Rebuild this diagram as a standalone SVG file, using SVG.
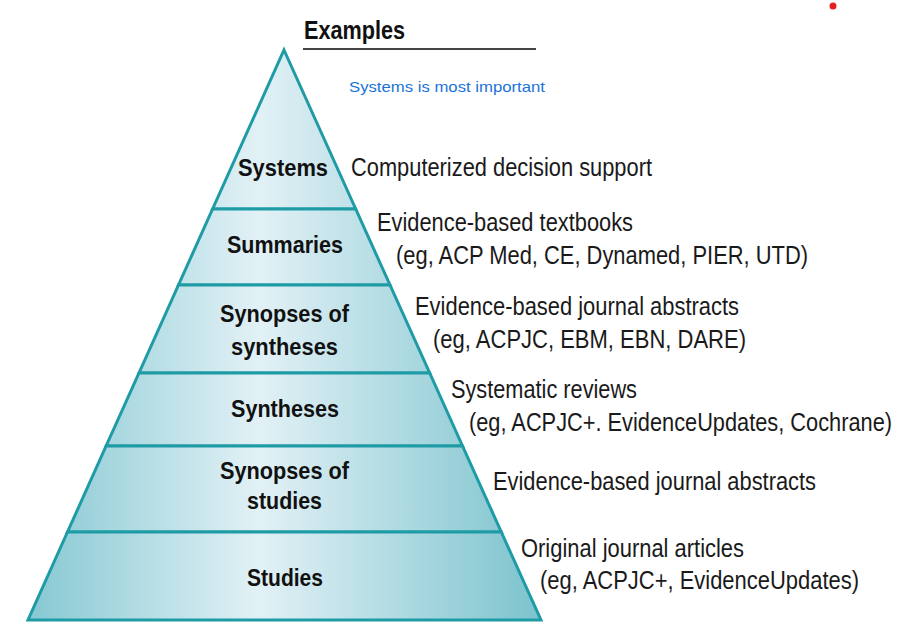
<svg xmlns="http://www.w3.org/2000/svg" width="910" height="632" viewBox="0 0 910 632">
<style>
.band{fill:url(#g);stroke:#1f9ba6;stroke-width:3;stroke-linejoin:miter}
.lbl{font-family:"Liberation Sans",Arial,sans-serif;font-weight:bold;font-size:24px;fill:#111;text-anchor:middle}
.ex{font-family:"Liberation Sans",Arial,sans-serif;font-size:25px;fill:#1a1a1a}
</style>
<defs>
<linearGradient id="g" gradientUnits="userSpaceOnUse" x1="28" y1="0" x2="541" y2="0">
<stop offset="0" stop-color="#86c8d2"/>
<stop offset="0.45" stop-color="#e2f1f6"/>
<stop offset="1" stop-color="#7cc3cd"/>
</linearGradient>
</defs>
<rect width="910" height="632" fill="#ffffff"/>
<g id="header">
<text x="304" y="39" font-family="'Liberation Sans',Arial,sans-serif" font-weight="bold" font-size="26" fill="#111" textLength="101" lengthAdjust="spacingAndGlyphs">Examples</text>
<line x1="303" y1="49" x2="536" y2="49" stroke="#444" stroke-width="2"/>
<text x="349" y="92" font-family="'Liberation Sans',Arial,sans-serif" font-size="15" fill="#1a73d8" textLength="196" lengthAdjust="spacingAndGlyphs">Systems is most important</text>
<circle cx="833" cy="6" r="3.5" fill="#e32020"/>
</g>
<g id="systems">
<polygon class="band" points="284,50 355.7,209 212.6,209"/>
<text class="lbl" x="283" y="176" textLength="90" lengthAdjust="spacingAndGlyphs">Systems</text>
<text class="ex" x="351" y="176" textLength="301" lengthAdjust="spacingAndGlyphs">Computerized decision support</text>
</g>
<g id="summaries">
<polygon class="band" points="212.6,209 355.7,209 390,285 178.5,285"/>
<text class="lbl" x="285" y="253" textLength="116" lengthAdjust="spacingAndGlyphs">Summaries</text>
<text class="ex" x="377" y="231" textLength="256" lengthAdjust="spacingAndGlyphs">Evidence-based textbooks</text>
<text class="ex" x="396" y="264" textLength="412" lengthAdjust="spacingAndGlyphs">(eg, ACP Med, CE, Dynamed, PIER, UTD)</text>
</g>
<g id="synopses-of-syntheses">
<polygon class="band" points="178.5,285 390,285 429.7,373 139,373"/>
<text class="lbl" x="284.5" y="322" textLength="129" lengthAdjust="spacingAndGlyphs">Synopses of</text>
<text class="lbl" x="284.5" y="355" textLength="107" lengthAdjust="spacingAndGlyphs">syntheses</text>
<text class="ex" x="415" y="315" textLength="324" lengthAdjust="spacingAndGlyphs">Evidence-based journal abstracts</text>
<text class="ex" x="433" y="348" textLength="313" lengthAdjust="spacingAndGlyphs">(eg, ACPJC, EBM, EBN, DARE)</text>
</g>
<g id="syntheses">
<polygon class="band" points="139,373 429.7,373 462.5,446 106.1,446"/>
<text class="lbl" x="285" y="417" textLength="108" lengthAdjust="spacingAndGlyphs">Syntheses</text>
<text class="ex" x="451" y="398" textLength="186" lengthAdjust="spacingAndGlyphs">Systematic reviews</text>
<text class="ex" x="469" y="431" textLength="423" lengthAdjust="spacingAndGlyphs">(eg, ACPJC+. EvidenceUpdates, Cochrane)</text>
</g>
<g id="synopses-of-studies">
<polygon class="band" points="106.1,446 462.5,446 501.3,532 67.5,532"/>
<text class="lbl" x="284.5" y="479" textLength="129" lengthAdjust="spacingAndGlyphs">Synopses of</text>
<text class="lbl" x="284.5" y="509" textLength="75" lengthAdjust="spacingAndGlyphs">studies</text>
<text class="ex" x="493" y="490" textLength="323" lengthAdjust="spacingAndGlyphs">Evidence-based journal abstracts</text>
</g>
<g id="studies">
<polygon class="band" points="67.5,532 501.3,532 541,620 28,620"/>
<text class="lbl" x="285" y="586" textLength="76" lengthAdjust="spacingAndGlyphs">Studies</text>
<text class="ex" x="521" y="557" textLength="223" lengthAdjust="spacingAndGlyphs">Original journal articles</text>
<text class="ex" x="540" y="589" textLength="319" lengthAdjust="spacingAndGlyphs">(eg, ACPJC+, EvidenceUpdates)</text>
</g>
<g id="connectors"></g>
</svg>
